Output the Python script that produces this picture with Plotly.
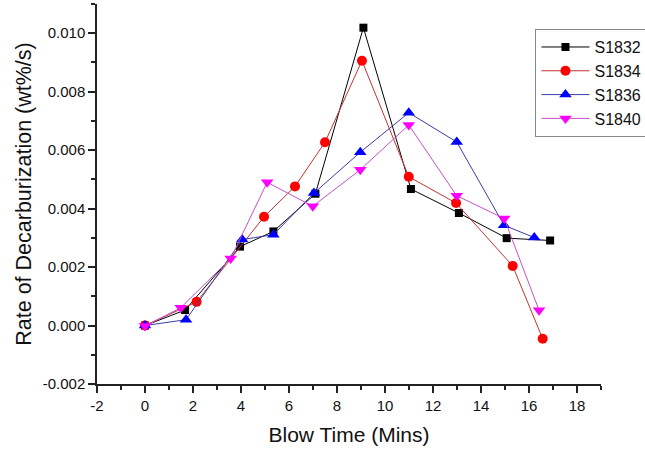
import plotly.graph_objects as go

# ---- data ----
s1832_x = [0, 1.67, 3.96, 5.35, 7.1, 9.1, 11.08, 13.08, 15.07, 16.88]
s1832_y = [0.0, 0.00053, 0.0027, 0.00322, 0.00451, 0.01019, 0.00467, 0.00385, 0.00299, 0.00291]

s1834_x = [0, 2.15, 4.96, 6.25, 7.5, 9.04, 10.99, 12.96, 15.32, 16.57]
s1834_y = [0.0, 0.00081, 0.00372, 0.00476, 0.00627, 0.00906, 0.00509, 0.00419, 0.00204, -0.00045]

s1836_x = [0, 1.71, 4.05, 5.35, 7.04, 8.97, 10.99, 12.99, 14.96, 16.22]
s1836_y = [0.0, 0.0002, 0.00294, 0.00311, 0.00453, 0.00593, 0.00728, 0.00628, 0.00343, 0.00301]

s1840_x = [0, 1.49, 3.57, 5.09, 6.99, 8.97, 10.99, 12.99, 14.97, 16.42]
s1840_y = [-0.00002, 0.00061, 0.00229, 0.0049, 0.00408, 0.00533, 0.00686, 0.00444, 0.00366, 0.00052]

series_names = ["S1832", "S1834", "S1836", "S1840"]

x_ticks = [-2, 0, 2, 4, 6, 8, 10, 12, 14, 16, 18]
y_ticks = [-0.002, 0.0, 0.002, 0.004, 0.006, 0.008, 0.010]

FONT = "Arial, Liberation Sans, sans-serif"

styles = [
    dict(line_color="#000000", marker_color="#000000", symbol="square", size=8),
    dict(line_color="#c83232", marker_color="#ff0000", symbol="circle", size=10),
    dict(line_color="#3c3caa", marker_color="#0000ff", symbol="triangle-up", size=11),
    dict(line_color="#c850c8", marker_color="#ff00ff", symbol="triangle-down", size=11),
]

xs = [s1832_x, s1834_x, s1836_x, s1840_x]
ys = [s1832_y, s1834_y, s1836_y, s1840_y]

fig = go.Figure()
for name, x, y, st in zip(series_names, xs, ys, styles):
    fig.add_trace(go.Scatter(
        x=x, y=y, name=name, mode="lines+markers",
        line=dict(color=st["line_color"], width=1),
        marker=dict(color=st["marker_color"], symbol=st["symbol"], size=st["size"],
                    line=dict(width=0)),
    ))

axis_common = dict(
    showline=True, linecolor="#222222", linewidth=1.5,
    ticks="outside", ticklen=7, tickwidth=1.5, tickcolor="#222222",
    showgrid=False, zeroline=False, mirror=False,
    tickfont=dict(family=FONT, size=15, color="#111111"),
)

fig.update_xaxes(
    range=[-2, 19], tickmode="array", tickvals=x_ticks,
    ticktext=[f"{v:g}" for v in x_ticks],
    minor=dict(dtick=1, ticks="outside", ticklen=4, tickwidth=1.5, tickcolor="#222222", showgrid=False),
    title=dict(text="Blow Time (Mins)", font=dict(family=FONT, size=21, color="#111111"), standoff=15),
    **axis_common,
)
fig.update_yaxes(
    range=[-0.002, 0.011], tickmode="array", tickvals=y_ticks,
    ticktext=[f"{v:.3f}" for v in y_ticks],
    minor=dict(dtick=0.001, tick0=0, ticks="outside", ticklen=4, tickwidth=1.5, tickcolor="#222222", showgrid=False),
    title=dict(text="Rate of Decarburization (wt%/s)", font=dict(family=FONT, size=21.5, color="#111111"), standoff=5),
    **axis_common,
)

fig.update_layout(
    width=645, height=450,
    margin=dict(l=97, r=44, t=4, b=66, autoexpand=False),
    paper_bgcolor="white", plot_bgcolor="white",
    font=dict(family=FONT, color="#111111"),
    legend=dict(
        x=0.87, y=0.934, xanchor="left", yanchor="top",
        bgcolor="white", bordercolor="#888888", borderwidth=1,
        font=dict(family=FONT, size=16, color="#111111"),
        tracegroupgap=0, itemwidth=48,
    ),
    showlegend=True,
)

fig.write_html("out.html")
